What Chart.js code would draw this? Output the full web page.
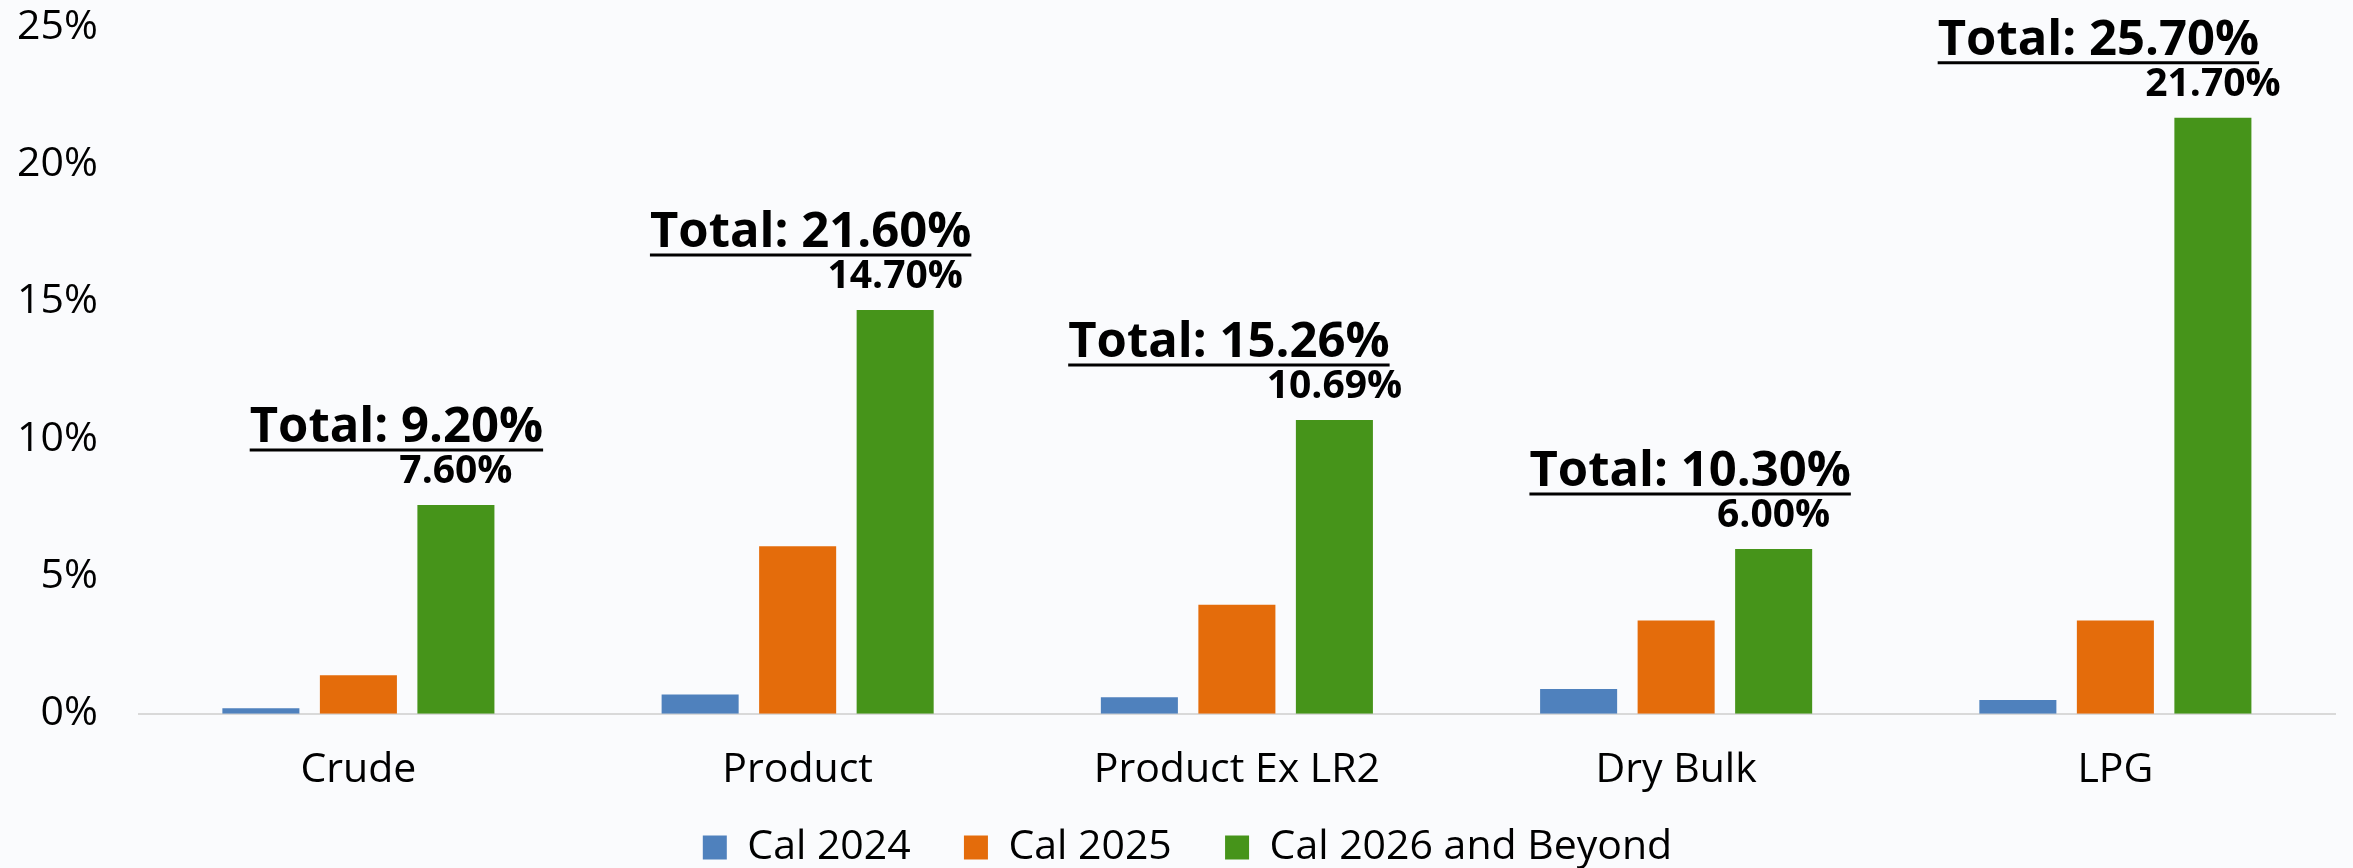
<!DOCTYPE html>
<html>
<head>
<meta charset="utf-8">
<script src="https://cdn.jsdelivr.net/npm/chart.js@4.4.1/dist/chart.umd.min.js"></script>
<style>
  html, body { margin: 0; padding: 0; background: #fafbfd; }
  #wrap { width: 2353px; height: 868px; position: relative; }
</style>
</head>
<body>
<div id="wrap"><canvas id="grafico"></canvas></div>
<script>
const categorias = ['Crude', 'Product', 'Product Ex LR2', 'Dry Bulk', 'LPG'];
const cal2024 = [0.2, 0.7, 0.6, 0.9, 0.5];
const cal2025 = [1.4, 6.1, 3.97, 3.4, 3.4];
const cal2026 = [7.6, 14.7, 10.69, 6.0, 21.7];
const totais = [9.2, 21.6, 15.26, 10.3, 25.7];
const yTicks = [0, 5, 10, 15, 20, 25];

const fonte = '"Open Sans", "Noto Sans", sans-serif';

// deslocamento horizontal dos rótulos de total (px), a partir do centro da categoria
const totalNudge = [38, 13, -8, 14, -17];

const rotulosPlugin = {
  id: 'rotulos',
  afterLayout(chart) {
    // legenda um pouco à direita, como no original
    chart.legend.left += 32;
    chart.legend.right += 32;
  },
  afterDatasetsDraw(chart) {
    const ctx = chart.ctx;
    const metaVerde = chart.getDatasetMeta(2);
    const metaLaranja = chart.getDatasetMeta(1);
    ctx.save();
    ctx.fillStyle = '#000';
    ctx.strokeStyle = '#000';
    ctx.textBaseline = 'middle';

    metaVerde.data.forEach((bar, i) => {
      // valor da barra verde
      ctx.font = 'bold 39px ' + fonte;
      ctx.textAlign = 'center';
      ctx.fillText(cal2026[i].toFixed(2) + '%', bar.x, bar.y - 33);

      // total sublinhado
      const centro = metaLaranja.data[i].x + totalNudge[i];
      const texto = 'Total: ' + totais[i].toFixed(2) + '%';
      ctx.font = 'bold 49px ' + fonte;
      const w = ctx.measureText(texto).width;
      const ty = bar.y - 77;
      ctx.fillText(texto, centro, ty);
      ctx.lineWidth = 3;
      ctx.beginPath();
      ctx.moveTo(centro - w / 2, ty + 22);
      ctx.lineTo(centro + w / 2, ty + 22);
      ctx.stroke();
    });
    ctx.restore();
  }
};

const ctx = document.getElementById('grafico').getContext('2d');

new Chart(ctx, {
  type: 'bar',
  data: {
    labels: categorias,
    datasets: [
      { label: 'Cal 2024', data: cal2024, backgroundColor: '#4f81bd' },
      { label: 'Cal 2025', data: cal2025, backgroundColor: '#e46c0b' },
      { label: 'Cal 2026 and Beyond', data: cal2026, backgroundColor: '#46941a' }
    ]
  },
  options: {
    responsive: true,
    maintainAspectRatio: false,
    animation: false,
    layout: {
      padding: { left: -24, right: 18, top: 0, bottom: -10 }
    },
    datasets: {
      bar: {
        categoryPercentage: 0.666,
        barPercentage: 0.79
      }
    },
    scales: {
      x: {
        grid: { display: false, drawTicks: false },
        border: { color: '#d9d9d9', width: 2 },
        ticks: {
          color: '#000',
          padding: 32,
          font: { family: fonte, size: 41 }
        }
      },
      y: {
        min: 0,
        max: 25,
        afterBuildTicks: axis => { axis.ticks = yTicks.map(v => ({ value: v })); },
        // o padding dos ticks não deve empurrar o topo do gráfico
        afterFit: scale => { scale.paddingTop = 27; scale.paddingBottom = 27; },
        grid: { display: false, drawTicks: false },
        border: { display: false },
        ticks: {
          color: '#000',
          padding: 41,
          font: { family: fonte, size: 41 },
          callback: v => v + '%'
        }
      }
    },
    plugins: {
      legend: {
        position: 'bottom',
        labels: {
          color: '#000',
          boxWidth: 24,
          boxHeight: 24,
          padding: 0,
          font: { family: fonte, size: 41 },
          generateLabels: chart => {
            const itens = Chart.defaults.plugins.legend.labels.generateLabels(chart);
            itens.forEach((item, i) => {
              if (i < itens.length - 1) item.text += '     ';
            });
            return itens;
          }
        }
      },
      tooltip: { enabled: false }
    }
  },
  plugins: [rotulosPlugin]
});
</script>
</body>
</html>
